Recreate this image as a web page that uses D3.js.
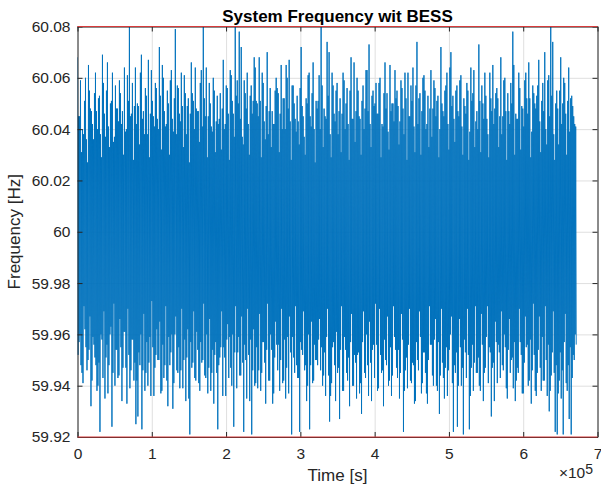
<!DOCTYPE html>
<html><head><meta charset="utf-8">
<script src="https://cdn.jsdelivr.net/npm/d3@7"></script>
<style>
body{margin:0;background:#fff}
svg{display:block}
text{font-family:"Liberation Sans",Arial,Helvetica,sans-serif}
</style>
</head><body>
<svg id="chart" width="601" height="491"></svg>
<script>
// ---- data ----
const title = "System Frequency wit BESS";
const xLabel = "Time [s]";
const yLabel = "Frequency [Hz]";
const xTicks = [0, 100000, 200000, 300000, 400000, 500000, 600000, 700000];
const xTickLabels = ["0", "1", "2", "3", "4", "5", "6", "7"];
const yTicks = [59.92, 59.94, 59.96, 59.98, 60, 60.02, 60.04, 60.06, 60.08];
const yTickLabels = ["59.92", "59.94", "59.96", "59.98", "60", "60.02", "60.04", "60.06", "60.08"];
const limitLines = [59.92, 60.08];   // red limit lines (Hz)
const sampleInterval = 672;          // s between plotted samples
const frequency = [
60.068,59.952,60.045,59.957,60.045,59.960,60.059,59.948,60.031,59.945,60.040,59.941,60.038,59.971,60.051,59.962,60.060,59.955,60.036,59.946,60.027,59.950,60.065,59.954,60.055,59.967,60.048,59.932,60.047,59.942,60.042,59.959,60.036,59.956,60.054,59.951,60.062,59.948,60.047,59.938,
60.040,59.940,60.052,59.949,60.053,59.922,60.038,59.960,60.029,59.958,60.069,59.943,60.058,59.969,60.046,59.935,60.037,59.951,60.055,59.956,60.066,59.937,60.041,59.948,60.033,59.960,60.050,59.963,60.051,59.924,60.062,59.945,60.035,59.972,60.037,59.940,60.057,59.954,60.048,59.954,
60.048,59.943,60.043,59.944,60.059,59.966,60.054,59.955,60.042,59.934,60.047,59.947,60.030,59.961,60.064,59.961,60.039,59.947,60.040,59.933,60.061,59.970,60.051,59.952,60.080,59.939,60.045,59.946,60.046,59.958,60.058,59.958,60.028,59.942,60.049,59.949,60.064,59.925,60.042,59.942,
60.050,59.928,60.049,59.953,60.034,59.948,60.062,59.960,60.069,59.923,60.044,59.946,60.047,59.968,60.038,59.938,60.056,59.945,60.053,59.957,60.038,59.940,60.067,59.949,60.029,59.959,60.046,59.936,60.063,59.973,60.051,59.955,60.045,59.936,60.041,59.947,60.058,59.952,60.056,59.962,
60.044,59.950,60.040,59.950,60.072,59.965,60.053,59.937,60.032,59.938,60.065,59.956,60.060,59.943,60.047,59.948,60.041,59.971,60.042,59.942,60.055,59.932,60.050,59.959,60.030,59.948,60.059,59.953,60.063,59.960,60.044,59.931,60.039,59.941,60.052,59.960,60.079,59.967,60.038,59.946,
60.057,59.945,60.056,59.955,60.046,59.939,60.043,59.946,60.062,59.970,60.049,59.939,60.033,59.950,60.061,59.958,60.054,59.934,60.038,59.951,60.049,59.962,60.052,59.935,60.027,59.921,60.046,59.957,60.066,59.947,60.054,59.949,60.051,59.969,60.040,59.943,60.064,59.942,60.048,59.961,
60.047,59.954,60.047,59.941,60.035,59.938,60.058,59.957,60.063,59.949,60.041,59.950,60.080,59.972,60.052,59.944,60.045,59.943,60.064,59.960,60.029,59.937,60.045,59.947,60.058,59.966,60.050,59.938,60.041,59.945,60.039,59.954,60.060,59.933,60.055,59.952,60.031,59.957,60.043,59.945,
60.053,59.923,60.042,59.948,60.044,59.951,60.054,59.955,60.032,59.969,60.048,59.936,60.067,59.955,60.040,59.951,60.042,59.936,60.057,59.958,60.056,59.964,60.046,59.943,60.028,59.959,60.063,59.947,60.061,59.940,60.051,59.960,60.046,59.924,60.037,59.953,60.080,59.971,60.053,59.939,
60.059,59.953,60.050,59.959,60.078,59.944,60.044,59.944,60.072,59.967,60.037,59.949,60.034,59.922,60.059,59.956,60.054,59.950,60.048,59.935,60.062,59.970,60.042,59.952,60.030,59.934,60.053,59.958,60.057,59.921,60.046,59.946,60.051,59.962,60.068,59.940,60.064,59.941,60.051,59.955,
60.050,59.939,60.045,59.946,60.068,59.968,60.051,59.938,60.029,59.945,60.062,59.957,60.058,59.957,60.043,59.949,60.036,59.933,60.049,59.954,60.070,59.972,60.038,59.942,60.047,59.942,60.056,59.960,60.033,59.954,60.047,59.933,60.042,59.937,60.042,59.951,60.055,59.965,60.060,59.956,
60.056,59.946,60.054,59.956,60.031,59.938,60.046,59.950,60.065,59.970,60.040,59.941,60.052,59.942,60.052,59.958,60.040,59.935,60.065,59.947,60.060,59.959,60.048,59.937,60.067,59.967,60.043,59.953,60.028,59.921,60.057,59.959,60.057,59.951,60.050,59.945,60.044,59.971,60.039,59.948,
60.053,59.943,60.043,59.943,60.034,59.922,60.056,59.957,60.072,59.954,60.049,59.952,60.045,59.969,60.037,59.946,60.030,59.948,60.052,59.934,60.050,59.940,60.061,59.960,60.062,59.923,60.045,59.948,60.041,59.965,60.054,59.941,60.066,59.942,60.040,59.956,60.027,59.950,60.051,59.950,
60.048,59.948,60.051,59.958,60.061,59.966,60.040,59.946,60.080,59.955,60.057,59.940,60.033,59.944,60.048,59.953,60.045,59.936,60.044,59.959,60.074,59.970,60.053,59.944,60.070,59.926,60.038,59.936,60.029,59.941,60.062,59.955,60.057,59.957,60.046,59.948,60.043,59.934,60.055,59.961,
60.058,59.945,60.038,59.947,60.047,59.927,60.052,59.954,60.031,59.971,60.046,59.938,60.062,59.938,60.059,59.959,60.040,59.954,60.050,59.945,60.056,59.942,60.042,59.951,60.028,59.932,60.055,59.957,60.068,59.968,60.044,59.940,60.044,59.940,60.066,59.952,60.035,59.949,60.047,59.935,
60.060,59.952,60.055,59.953,60.045,59.937,60.044,59.941,60.030,59.929,60.051,59.957,60.057,59.969,60.040,59.945,60.048,59.943,60.063,59.960,60.063,59.948,60.047,59.936,60.073,59.965,60.042,59.949,60.033,59.934,60.053,59.954,60.055,59.956,60.049,59.943,60.050,59.972,60.058,59.956,
60.046,59.938,60.046,59.939,60.058,59.970,60.060,59.952,60.029,59.945,60.042,59.946,60.041,59.932,60.054,59.958,60.066,59.950,60.048,59.948,60.054,59.967,60.039,59.940,60.032,59.942,60.065,59.955,60.047,59.936,60.050,59.944,60.050,59.971,60.043,59.959,60.063,59.954,60.052,59.947,
60.055,59.943,60.049,59.954,60.034,59.935,60.043,59.945,60.059,59.968,60.056,59.958,60.048,59.922,60.038,59.938,60.062,59.946,60.052,59.951,60.028,59.939,60.062,59.956,60.045,59.970,60.045,59.942,60.057,59.941,60.051,59.949,60.064,59.948,60.041,59.933,60.031,59.934,60.057,59.957,
60.074,59.950,60.042,59.946,60.052,59.969,60.054,59.959,60.030,59.937,60.047,59.941,60.060,59.953,60.061,59.953,60.055,59.945,60.040,59.937,60.042,59.933,60.053,59.950,60.033,59.971,60.048,59.956,60.063,59.956,60.037,59.944,60.048,59.940,60.059,59.958,60.056,59.966,60.045,59.940,
60.051,59.938,60.053,59.957,60.029,59.929,60.040,59.944,60.072,59.970,60.050,59.949,60.047,59.943,60.045,59.935,60.055,59.947,60.057,59.955,60.062,59.936,60.042,59.946,60.032,59.954,60.064,59.960,60.070,59.967,60.049,59.941,60.053,59.922,60.044,59.948,60.035,59.945,60.055,59.953,
60.057,59.924,60.047,59.940,60.045,59.966,60.059,59.955,60.061,59.940,60.041,59.947,60.030,59.921,60.052,59.958,60.049,59.953,60.046,59.943,60.058,59.970,60.055,59.952,60.028,59.923,60.039,59.936,60.064,59.947,60.051,59.956,60.054,59.938,60.063,59.949,60.033,59.971,60.043,59.945,
60.047,59.945,60.040,59.951,60.073,59.940,60.051,59.938,60.031,59.968,60.057,59.956,60.050,59.934,60.044,59.945,60.062,59.947,60.053,59.959,60.044,59.971,60.038,59.941,60.029,59.955,60.062,59.953,60.052,59.928,60.047,59.947,60.065,59.949,60.042,59.934,60.048,59.965,60.054,59.957,
60.056,59.941,60.052,59.956,60.033,59.953,60.045,59.943,60.068,59.969,60.038,59.948,60.045,59.946,60.059,59.960,60.060,59.955,60.047,59.939,60.028,59.935,60.054,59.954,60.047,59.966,60.042,59.945,60.058,59.950,60.050,59.951,60.078,59.939,60.065,59.957,60.030,59.934,60.046,59.942,
60.044,59.947,60.044,59.945,60.062,59.970,60.056,59.957,60.032,59.952,60.049,59.937,60.048,59.937,60.041,59.949,60.059,59.967,60.062,59.955,60.052,59.956,60.046,59.940,60.066,59.942,60.052,59.958,60.029,59.933,60.039,59.946,60.057,59.972,60.054,59.952,60.050,59.938,60.048,59.936,
60.053,59.945,60.057,59.954,60.067,59.967,60.043,59.947,60.031,59.938,60.051,59.959,60.058,59.942,60.047,59.942,60.070,59.971,60.040,59.950,60.034,59.936,60.059,59.956,60.061,59.930,60.045,59.938,60.080,59.944,60.053,59.953,60.074,59.969,60.038,59.945,60.028,59.922,60.050,59.948,
60.055,59.921,60.048,59.937,60.034,59.942,60.055,59.953,60.068,59.935,60.042,59.946,60.050,59.921,60.060,59.957,60.058,59.968,60.046,59.941,60.030,59.938,60.051,59.948,60.064,59.927,60.039,59.955,60.052,59.921,60.053,59.943,60.049,59.952,60.045,59.950,60.042,59.960,60.041,59.956
];

// ---- drawing ----
const svg = d3.select("#chart");
const plot = {left: 77.5, right: 597.5, top: 26.5, bottom: 437};
const x = d3.scaleLinear().domain([0, 700000]).range([plot.left, plot.right]);
const y = d3.scaleLinear().domain([59.92, 60.08]).range([plot.bottom, plot.top]);
const axisColor = "#262626";

// grid
svg.append("g").attr("transform", `translate(0,${plot.bottom})`)
  .call(d3.axisBottom(x).tickValues(xTicks).tickSize(-(plot.bottom - plot.top)).tickFormat(""))
  .call(g => { g.select(".domain").remove(); g.selectAll("line").attr("stroke", "#dfdfdf").attr("stroke-width", 1); });
svg.append("g").attr("transform", `translate(${plot.left},0)`)
  .call(d3.axisLeft(y).tickValues(yTicks).tickSize(-(plot.right - plot.left)).tickFormat(""))
  .call(g => { g.select(".domain").remove(); g.selectAll("line").attr("stroke", "#dfdfdf").attr("stroke-width", 1); });

// clip
svg.append("clipPath").attr("id", "clip").append("rect")
  .attr("x", plot.left).attr("y", plot.top).attr("width", plot.right - plot.left).attr("height", plot.bottom - plot.top);

// data line
const line = d3.line().x((d, i) => x(i * sampleInterval)).y(d => y(d));
svg.append("path").datum(frequency)
  .attr("clip-path", "url(#clip)")
  .attr("fill", "none").attr("stroke", "#0072BD").attr("stroke-width", 0.95)
  .attr("stroke-linejoin", "bevel").attr("d", line);

// axes
function styleAxis(g) {
  g.select(".domain").attr("stroke", axisColor).attr("stroke-width", 1);
  g.selectAll(".tick line").attr("stroke", axisColor).attr("stroke-width", 1);
  g.selectAll(".tick text").attr("fill", axisColor).style("font-size", "15.5px")
    .style("font-family", '"Liberation Sans", Arial, sans-serif');
}
svg.append("g").attr("transform", `translate(0,${plot.bottom})`)
  .call(d3.axisBottom(x).tickValues(xTicks).tickFormat((d, i) => xTickLabels[i]).tickSize(-5).tickSizeOuter(0).tickPadding(11))
  .call(styleAxis);
svg.append("g").attr("transform", `translate(0,${plot.top})`)
  .call(d3.axisTop(x).tickValues(xTicks).tickFormat("").tickSize(-5).tickSizeOuter(0))
  .call(styleAxis);
svg.append("g").attr("transform", `translate(${plot.left},0)`)
  .call(d3.axisLeft(y).tickValues(yTicks).tickFormat((d, i) => yTickLabels[i]).tickSize(-5).tickSizeOuter(0).tickPadding(7))
  .call(styleAxis);
svg.append("g").attr("transform", `translate(${plot.right},0)`)
  .call(d3.axisRight(y).tickValues(yTicks).tickFormat("").tickSize(-5).tickSizeOuter(0))
  .call(styleAxis);

// red limit lines
svg.append("g").selectAll("line").data(limitLines).join("line")
  .attr("x1", x(0)).attr("x2", x(700000))
  .attr("y1", d => y(d)).attr("y2", d => y(d))
  .attr("stroke", "#d83a3a").attr("stroke-width", 1.2);

// title & labels
svg.append("text").attr("x", (plot.left + plot.right) / 2).attr("y", 21.5)
  .attr("text-anchor", "middle").attr("fill", "#000").style("font-size", "17px").style("font-weight", "bold")
  .text(title);
svg.append("text").attr("x", (plot.left + plot.right) / 2).attr("y", 481)
  .attr("text-anchor", "middle").attr("fill", axisColor).style("font-size", "17px").text(xLabel);
svg.append("text").attr("transform", `translate(20,${(plot.top + plot.bottom) / 2}) rotate(-90)`)
  .attr("text-anchor", "middle").attr("fill", axisColor).style("font-size", "17px").text(yLabel);
const expo = svg.append("text").attr("x", 593).attr("y", 477.5).attr("text-anchor", "end")
  .attr("fill", axisColor).style("font-size", "15.5px");
expo.append("tspan").text("\u00d710");
expo.append("tspan").attr("dy", -4).style("font-size", "14px").text("5");
</script>
</body></html>
